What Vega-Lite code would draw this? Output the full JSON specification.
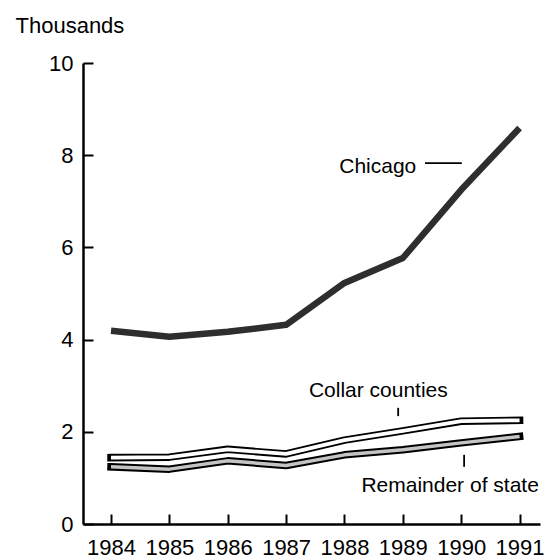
{
  "$schema": "https://vega.github.io/schema/vega-lite/v6.json",
  "width": 457,
  "height": 461,
  "autosize": "none",
  "padding": {"left": 83, "top": 63, "right": 6, "bottom": 36},
  "background": "white",
  "config": {
    "view": {"stroke": null},
    "font": "Liberation Sans",
    "axis": {
      "domainColor": "black",
      "domainWidth": 2.5,
      "tickColor": "black",
      "tickWidth": 2,
      "tickSize": -10,
      "labelColor": "black",
      "labelFont": "Liberation Sans",
      "labelFontSize": 22,
      "grid": false,
      "labelFlush": false,
      "labelOverlap": false
    }
  },
  "datasets": {
    "series": [
      {"year": 1984, "value": 4.19, "series": "Chicago"},
      {"year": 1985, "value": 4.06, "series": "Chicago"},
      {"year": 1986, "value": 4.17, "series": "Chicago"},
      {"year": 1987, "value": 4.32, "series": "Chicago"},
      {"year": 1988, "value": 5.23, "series": "Chicago"},
      {"year": 1989, "value": 5.77, "series": "Chicago"},
      {"year": 1990, "value": 7.25, "series": "Chicago"},
      {"year": 1991, "value": 8.59, "series": "Chicago"},
      {"year": 1984, "value": 1.44, "series": "Collar counties"},
      {"year": 1985, "value": 1.45, "series": "Collar counties"},
      {"year": 1986, "value": 1.62, "series": "Collar counties"},
      {"year": 1987, "value": 1.52, "series": "Collar counties"},
      {"year": 1988, "value": 1.82, "series": "Collar counties"},
      {"year": 1989, "value": 2.02, "series": "Collar counties"},
      {"year": 1990, "value": 2.23, "series": "Collar counties"},
      {"year": 1991, "value": 2.25, "series": "Collar counties"},
      {"year": 1984, "value": 1.24, "series": "Remainder of state"},
      {"year": 1985, "value": 1.19, "series": "Remainder of state"},
      {"year": 1986, "value": 1.37, "series": "Remainder of state"},
      {"year": 1987, "value": 1.27, "series": "Remainder of state"},
      {"year": 1988, "value": 1.50, "series": "Remainder of state"},
      {"year": 1989, "value": 1.61, "series": "Remainder of state"},
      {"year": 1990, "value": 1.76, "series": "Remainder of state"},
      {"year": 1991, "value": 1.90, "series": "Remainder of state"}
    ],
    "labels": [
      {"x": 1988.57, "y": 7.61, "text": "Chicago"},
      {"x": 1988.58, "y": 2.755, "text": "Collar counties"},
      {"x": 1989.81, "y": 0.694, "text": "Remainder of state"}
    ],
    "leaders": [
      {"x": 1989.38, "x2": 1990.01, "y": 7.83, "y2": 7.83},
      {"x": 1988.92, "x2": 1988.92, "y": 2.52, "y2": 2.34},
      {"x": 1990.05, "x2": 1990.05, "y": 1.50, "y2": 1.24}
    ]
  },
  "layer": [
    {
      "data": {"name": "series"},
      "transform": [{"filter": "datum.series === 'Chicago'"}],
      "mark": {"type": "line", "color": "#2e2e2e", "strokeWidth": 6.5, "strokeCap": "butt", "strokeJoin": "round"},
      "encoding": {
        "x": {
          "field": "year", "type": "quantitative",
          "scale": {"domain": [1983.52, 1991.35], "nice": false, "zero": false},
          "axis": {"values": [1984, 1985, 1986, 1987, 1988, 1989, 1990, 1991], "format": "d", "title": null, "labelPadding": 23}
        },
        "y": {
          "field": "value", "type": "quantitative",
          "scale": {"domain": [0, 10], "nice": false},
          "axis": {
            "values": [0, 2, 4, 6, 8, 10], "format": "d", "labelPadding": 20,
            "title": "Thousands", "titleAngle": 0, "titleAlign": "left", "titleBaseline": "alphabetic",
            "titleX": -68, "titleY": -31, "titleFontSize": 22, "titleFontWeight": "normal",
            "titleColor": "black", "titleFont": "Liberation Sans"
          }
        }
      }
    },
    {
      "data": {"name": "series"},
      "transform": [{"filter": "datum.series === 'Remainder of state'"}],
      "mark": {"type": "line", "color": "black", "strokeWidth": 7.5, "strokeCap": "square", "strokeJoin": "round"},
      "encoding": {"x": {"field": "year", "type": "quantitative"}, "y": {"field": "value", "type": "quantitative"}}
    },
    {
      "data": {"name": "series"},
      "transform": [{"filter": "datum.series === 'Remainder of state'"}],
      "mark": {"type": "line", "color": "#c4c4c4", "strokeWidth": 3.5, "strokeCap": "butt", "strokeJoin": "round"},
      "encoding": {"x": {"field": "year", "type": "quantitative"}, "y": {"field": "value", "type": "quantitative"}}
    },
    {
      "data": {"name": "series"},
      "transform": [{"filter": "datum.series === 'Collar counties'"}],
      "mark": {"type": "line", "color": "black", "strokeWidth": 7.5, "strokeCap": "square", "strokeJoin": "round"},
      "encoding": {"x": {"field": "year", "type": "quantitative"}, "y": {"field": "value", "type": "quantitative"}}
    },
    {
      "data": {"name": "series"},
      "transform": [{"filter": "datum.series === 'Collar counties'"}],
      "mark": {"type": "line", "color": "white", "strokeWidth": 3.8, "strokeCap": "butt", "strokeJoin": "round"},
      "encoding": {"x": {"field": "year", "type": "quantitative"}, "y": {"field": "value", "type": "quantitative"}}
    },
    {
      "data": {"name": "leaders"},
      "mark": {"type": "rule", "color": "black", "strokeWidth": 1.8},
      "encoding": {
        "x": {"field": "x", "type": "quantitative"},
        "x2": {"field": "x2"},
        "y": {"field": "y", "type": "quantitative"},
        "y2": {"field": "y2"}
      }
    },
    {
      "data": {"name": "labels"},
      "mark": {"type": "text", "fontSize": 21, "font": "Liberation Sans", "color": "black", "baseline": "alphabetic", "align": "center"},
      "encoding": {
        "x": {"field": "x", "type": "quantitative"},
        "y": {"field": "y", "type": "quantitative"},
        "text": {"field": "text"}
      }
    }
  ]
}
